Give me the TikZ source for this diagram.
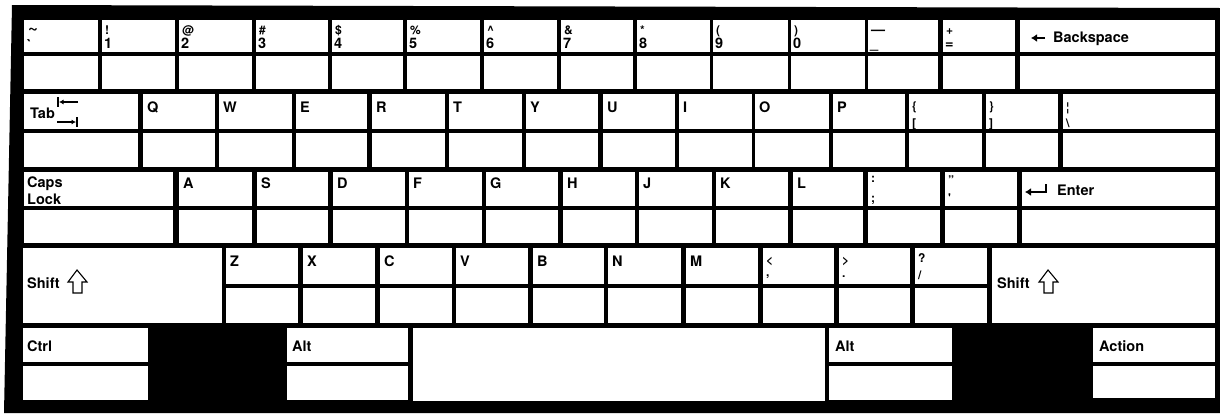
\documentclass[tikz,border=0pt]{standalone}
\usepackage{fontspec}
\setmainfont{TeX Gyre Heros}
\usetikzlibrary{arrows.meta}
\tikzset{
  keycap/.style={fill=white},
  divline/.style={line width=3.4pt, black},
  lbl/.style={anchor=base west, inner sep=0pt, font=\fontsize{14.5}{14.5}\selectfont\bfseries},
  sym/.style={anchor=base west, inner sep=0pt, font=\fontsize{12}{12}\selectfont\bfseries},
  glyph/.style={line width=1.6pt, black},
}
% key with divider: x1 x2 y1 y2 ydiv
\newcommand\kbd[5]{\fill[keycap] (#1,#3) rectangle (#2,#4); \draw[divline] (#1,#5) -- (#2,#5);}
% key without divider
\newcommand\kbn[4]{\fill[keycap] (#1,#3) rectangle (#2,#4);}
% number-row key: name x1 x2 top bottom
\newcommand\numkey[5]{\kbd{#2}{#3}{20}{89}{54}
  \node[sym] (#1t) at (#2+3,34) {#4};
  \node[lbl] (#1b) at (#2+2,48) {#5};}
\newcommand\qkey[4]{\kbd{#2}{#3}{94}{167}{131} \node[lbl] (#1) at (#2+4,112) {#4};}
\newcommand\akey[4]{\kbd{#2}{#3}{172}{243}{208} \node[lbl] (#1) at (#2+4,188) {#4};}
\newcommand\zkey[4]{\kbd{#2}{#3}{248}{323}{286} \node[lbl] (#1) at (#2+4,266) {#4};}
\begin{document}
\begin{tikzpicture}[x=1pt,y=-1pt]
\fill[white] (0,0) rectangle (1220,413);
\useasboundingbox (0,0) rectangle (1220,413);
\fill[black] (12,5) -- (1220,8) -- (1220,413) -- (4,413) -- cycle;

% ---- row 1
\kbd{24}{98}{20}{89}{54}
\node[sym, font=\fontsize{17}{17}\selectfont\bfseries] (k0t) at (28,33) {\textasciitilde};
\node[lbl] (k0b) at (27,50) {\textasciigrave};
\numkey{k1}{102}{175}{!}{1}
\numkey{k2}{179}{252}{@}{2}
\numkey{k3}{256}{328}{\#}{3}
\numkey{k4}{332}{403}{\$}{4}
\numkey{k5}{407}{480}{\%}{5}
\numkey{k6}{484}{557}{\textasciicircum}{6}
\numkey{k7}{561}{633}{\&}{7}
\numkey{k8}{637}{710}{*}{8}
\numkey{k9}{713}{788}{(}{9}
\numkey{k10}{791}{865}{)}{0}
\numkey{k11}{868}{938}{\fontsize{14}{14}\selectfont —}{\_}
\numkey{k12}{943}{1015}{+}{=}
\kbd{1020}{1215}{20}{89}{54}
\node[lbl] (bksp) at (1053,42) {Backspace};
\draw[glyph,-{Latex[length=6pt,width=8pt]}] (1045,38) -- (1031,38);

% ---- row 2
\kbd{24}{138}{94}{167}{131}
\node[lbl] (tab) at (30,118) {Tab};
\draw[line width=1.1pt,-{Latex[length=4.5pt,width=5pt]}] (78,102) -- (59,102);
\draw[line width=1.3pt] (58,97) -- (58,107);
\draw[line width=1.1pt,-{Latex[length=4.5pt,width=5pt]}] (57,122) -- (76,122);
\draw[line width=1.3pt] (77,117) -- (77,127);
\qkey{q}{143}{215}{Q}
\qkey{w}{219}{292}{W}
\qkey{e}{296}{367}{E}
\qkey{r}{372}{445}{R}
\qkey{t}{449}{522}{T}
\qkey{y}{526}{598}{Y}
\qkey{u}{603}{675}{U}
\qkey{i}{679}{752}{I}
\qkey{o}{755}{829}{O}
\qkey{p}{833}{905}{P}
\kbd{909}{982}{94}{167}{131}
\node[sym] (lbt) at (912,110) {\{};
\node[sym] (lbb) at (912,127) {[};
\kbd{986}{1058}{94}{167}{131}
\node[sym] (rbt) at (989,110) {\}};
\node[sym] (rbb) at (989,127) {]};
\kbd{1063}{1215}{94}{167}{131}
\node[sym] (bst) at (1066,111) {\textbrokenbar};
\node[sym] (bsb) at (1066,127) {\textbackslash};

% ---- row 3
\kbd{24}{173}{172}{243}{208}
\node[lbl] (caps) at (27,187) {Caps};
\node[lbl] (lock) at (27,204) {Lock};
\akey{a}{179}{252}{A}
\akey{s}{257}{328}{S}
\akey{d}{333}{405}{D}
\akey{f}{409}{482}{F}
\akey{g}{486}{558}{G}
\akey{h}{563}{635}{H}
\akey{j}{639}{712}{J}
\akey{kk}{716}{788}{K}
\akey{l}{793}{863}{L}
\kbd{868}{940}{172}{243}{208}
\node[sym] (sct) at (871,182) {:};
\node[sym] (scb) at (871,202) {;};
\kbd{945}{1017}{172}{243}{208}
\node[sym] (qtt) at (948,184) {"};
\node[sym] (qtb) at (948,202) {\textquotesingle};
\kbd{1022}{1215}{172}{243}{208}
\node[lbl] (enter) at (1057,195) {Enter};
\draw[glyph,-{Latex[length=6pt,width=8pt]}] (1046,184) -- (1046,192) -- (1025,192);

% ---- row 4
\kbn{23}{222}{248}{323}
\node[lbl] (lshift) at (27,288) {Shift};
\draw[line width=1.1pt] (77,270) -- (87,282) -- (82,282) -- (82,293) -- (73,293) -- (73,282) -- (68,282) -- cycle;
\zkey{z}{226}{298}{Z}
\zkey{x}{303}{375}{X}
\zkey{c}{380}{452}{C}
\zkey{v}{456}{528}{V}
\zkey{b}{533}{604}{B}
\zkey{n}{608}{681}{N}
\zkey{m}{686}{758}{M}
\kbd{763}{834}{248}{323}{286}
\node[sym] (ltt) at (766,264) {<};
\node[sym] (ltb) at (766,276) {,};
\kbd{839}{910}{248}{323}{286}
\node[sym] (gtt) at (842,264) {>};
\node[sym] (gtb) at (842,277) {.};
\kbd{915}{987}{248}{323}{286}
\node[sym] (qmt) at (918,262) {?};
\node[sym] (qmb) at (918,279) {/};
\kbn{992}{1215}{248}{323}
\node[lbl] (rshift) at (997,288) {Shift};
\draw[line width=1.1pt] (1048,270) -- (1058,282) -- (1053,282) -- (1053,293) -- (1044,293) -- (1044,282) -- (1039,282) -- cycle;

% ---- row 5
\kbd{23}{148}{328}{400}{364}
\node[lbl] (ctrl) at (27,351) {Ctrl};
\kbd{287}{408}{328}{400}{364}
\node[lbl] (lalt) at (292,351) {Alt};
\kbn{413}{825}{328}{401}
\kbd{829}{952}{328}{400}{364}
\node[lbl] (ralt) at (835,351) {Alt};
\kbd{1093}{1215}{328}{398}{364}
\node[lbl] (action) at (1099,351) {Action};
\end{tikzpicture}
\end{document}
